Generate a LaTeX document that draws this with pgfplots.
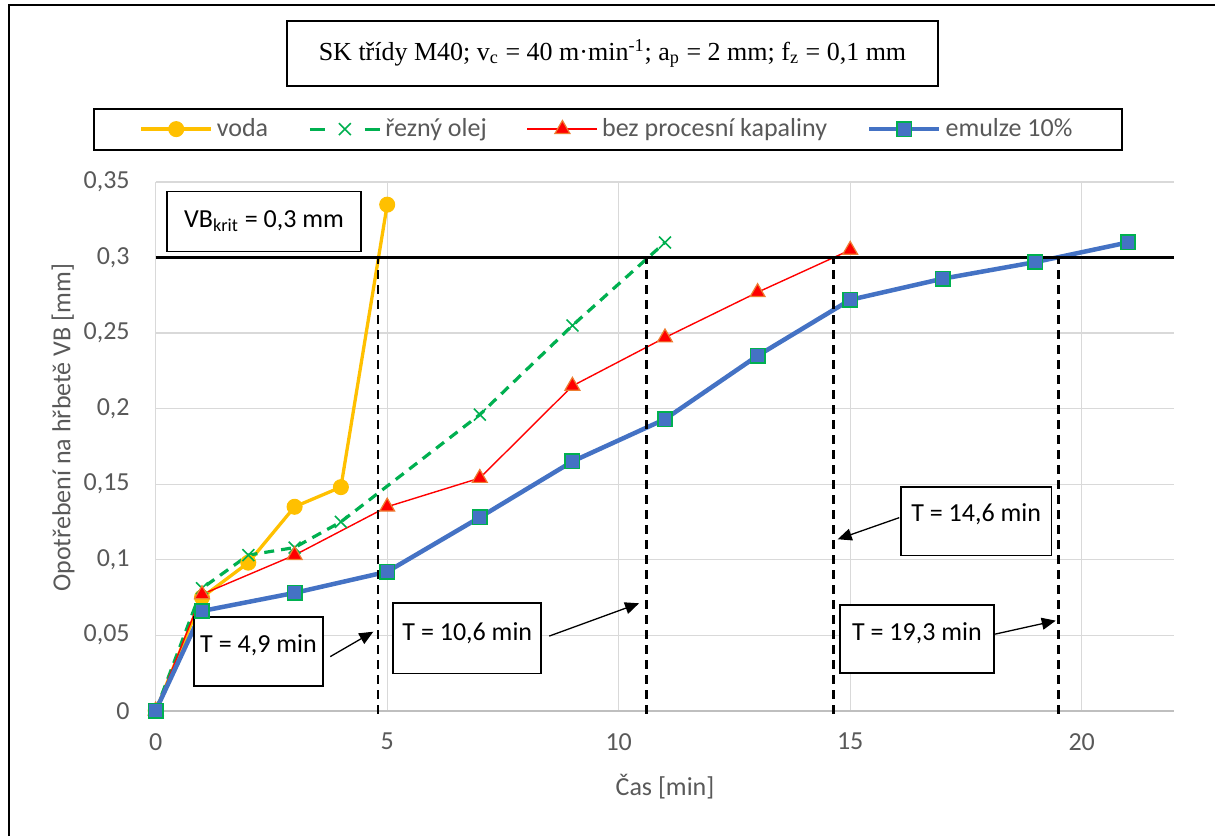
\documentclass[border=0pt]{standalone}
\usepackage{fontspec}
\setmainfont{Carlito}
\newfontfamily\timesfont{Liberation Serif}
\usepackage{pgfplots}
\pgfplotsset{compat=1.18}
\usetikzlibrary{arrows.meta}
\definecolor{cvoda}{HTML}{FFC000}
\definecolor{colej}{HTML}{00B050}
\definecolor{cbez}{HTML}{FF0000}
\definecolor{corange}{HTML}{ED7D31}
\definecolor{cemul}{HTML}{4472C4}
\definecolor{gridgray}{HTML}{D9D9D9}
\definecolor{axgray}{HTML}{BFBFBF}
\definecolor{tgray}{HTML}{595959}
\newcommand\fs{\fontsize{13}{15.6}\selectfont}
\begin{document}
\begin{tikzpicture}
\path[use as bounding box] (0pt,0pt) rectangle (607.5pt,418pt);
\draw[line width=1pt] (4.5pt,0pt) -- (4.5pt,415.5pt) -- (607.5pt,415.5pt);
\node[draw=black, line width=0.8pt, minimum width=325.5pt, minimum height=32.5pt, inner sep=0pt,
      font=\timesfont\fs] at (306.25pt,391.25pt)
  {SK třídy M40; v\textsubscript{c} = 40 m·min\textsuperscript{-1}; a\textsubscript{p} = 2 mm; f\textsubscript{z} = 0,1 mm};
\begin{axis}[
  at={(77.85pt,62.65pt)}, anchor=south west,
  scale only axis, width=509.3pt, height=264.35pt,
  xmin=0, xmax=22, ymin=0, ymax=0.35,
  clip=false,
  axis x line*=bottom, axis y line*=left,
  x axis line style={draw=axgray, line width=1pt, -},
  y axis line style={draw=none},
  major tick length=0pt, tick style={draw=none},
  grid=major, grid style={draw=gridgray, line width=0.6pt},
  xtick={0,5,10,15,20},
  ytick={0,0.05,0.1,0.15,0.2,0.25,0.3,0.35},
  scaled y ticks=false,
  yticklabel style={/pgf/number format/fixed, /pgf/number format/precision=2,
     /pgf/number format/use comma, /pgf/number format/assume math mode=true,
     anchor=east, xshift=-9.5pt},
  xticklabel style={/pgf/number format/assume math mode=true, anchor=center, yshift=-15.5pt},
  ticklabel style={font=\fs, text=tgray},
  xlabel={Čas [min]},
  xlabel style={at={(axis description cs:0.5,-0.144)}, anchor=center, font=\fs, text=tgray},
  ylabel={Opotřebení na hřbetě VB [mm]},
  ylabel style={at={(axis description cs:-0.091,0.535)}, anchor=center, font=\fs, text=tgray},
  legend columns=4,
  legend style={at={(0.444,1.100)}, anchor=center, draw=black, line width=1pt, font=\fs, text=tgray,
    inner xsep=23pt, inner ysep=3pt,
    /tikz/every even column/.append style={column sep=18pt}},
  legend image code/.code={\draw[mark repeat=2,mark phase=2] plot coordinates {(0pt,0pt) (17.5pt,0pt) (35pt,0pt)};},
]
\addplot[color=cvoda, line width=1.65pt, mark=*, mark size=3.75pt,
  mark options={fill=cvoda, draw=cvoda, line width=0.5pt}]
  coordinates {(0,0) (1,0.075) (2,0.098) (3,0.135) (4,0.148) (5,0.335)};
\addlegendentry{voda}
\addplot[color=colej, line width=1.6pt, dash pattern=on 5pt off 3.5pt, mark=x, mark size=4.2pt,
  mark options={solid, line width=0.8pt},
  legend image post style={dash pattern=on 7.5pt off 20pt}]
  coordinates {(0,0) (1,0.081) (2,0.103) (3,0.108) (4,0.125) (7,0.196) (9,0.255) (11,0.310)};
\addlegendentry{řezný olej}
\addplot[color=cbez, line width=0.7pt, mark=triangle*, mark size=4.3pt,
  mark options={fill=cbez, draw=corange, line width=0.6pt}]
  coordinates {(0,0) (1,0.077) (3,0.103) (5,0.135) (7,0.154) (9,0.215) (11,0.247) (13,0.277) (15,0.305)};
\addlegendentry{bez procesní kapaliny}
\addplot[color=cemul, line width=2.25pt, mark=square*, mark size=3.6pt,
  mark options={fill=cemul, draw=colej, line width=0.8pt}]
  coordinates {(0,0) (1,0.066) (3,0.078) (5,0.092) (7,0.128) (9,0.165) (11,0.193) (13,0.235) (15,0.272) (17,0.286) (19,0.297) (21,0.310)};
\addlegendentry{emulze 10\%}
\addplot[black, line width=1.65pt, forget plot] coordinates {(0,0.3) (22,0.3)};
\addplot[black, line width=1.3pt, dash pattern=on 4.5pt off 3pt, forget plot] coordinates {(4.8,-0.002) (4.8,0.3)};
\addplot[black, line width=1.3pt, dash pattern=on 4.5pt off 3pt, forget plot] coordinates {(10.6,-0.002) (10.6,0.3)};
\addplot[black, line width=1.3pt, dash pattern=on 4.5pt off 3pt, forget plot] coordinates {(14.64,-0.002) (14.64,0.3)};
\addplot[black, line width=1.3pt, dash pattern=on 4.5pt off 3pt, forget plot] coordinates {(19.5,-0.002) (19.5,0.3)};
% annotation boxes
\draw[line width=0.85pt, fill=white] (axis cs:0.25,0.304) rectangle (axis cs:4.43,0.3437);
\node[font=\fs] at (axis cs:2.34,0.324) {VB\textsubscript{krit} = 0,3 mm};
\draw[line width=0.85pt, fill=white] (axis cs:0.83,0.0164) rectangle (axis cs:3.61,0.0619);
\node[font=\fs] at (axis cs:2.22,0.0435) {T = 4,9 min};
\draw[line width=0.65pt, -{Triangle[length=7pt,width=6pt]}] (axis cs:3.77,0.0358) -- (axis cs:4.70,0.0523);
\draw[line width=0.85pt, fill=white] (axis cs:5.13,0.0247) rectangle (axis cs:8.32,0.0711);
\node[font=\fs] at (axis cs:6.73,0.0513) {T = 10,6 min};
\draw[line width=0.65pt, -{Triangle[length=7pt,width=6pt]}] (axis cs:8.50,0.0494) -- (axis cs:10.44,0.0711);
\draw[line width=0.85pt, fill=white] (axis cs:16.10,0.1027) rectangle (axis cs:19.35,0.1479);
\node[font=\fs] at (axis cs:17.72,0.130) {T = 14,6 min};
\draw[line width=0.65pt, -{Triangle[length=7pt,width=6pt]}] (axis cs:16.06,0.1278) -- (axis cs:14.73,0.1135);
\draw[line width=0.85pt, fill=white] (axis cs:14.78,0.0250) rectangle (axis cs:18.10,0.0701);
\node[font=\fs] at (axis cs:16.44,0.0513) {T = 19,3 min};
\draw[line width=0.65pt, -{Triangle[length=7pt,width=6pt]}] (axis cs:18.13,0.0507) -- (axis cs:19.44,0.0596);
\end{axis}
\end{tikzpicture}
\end{document}
